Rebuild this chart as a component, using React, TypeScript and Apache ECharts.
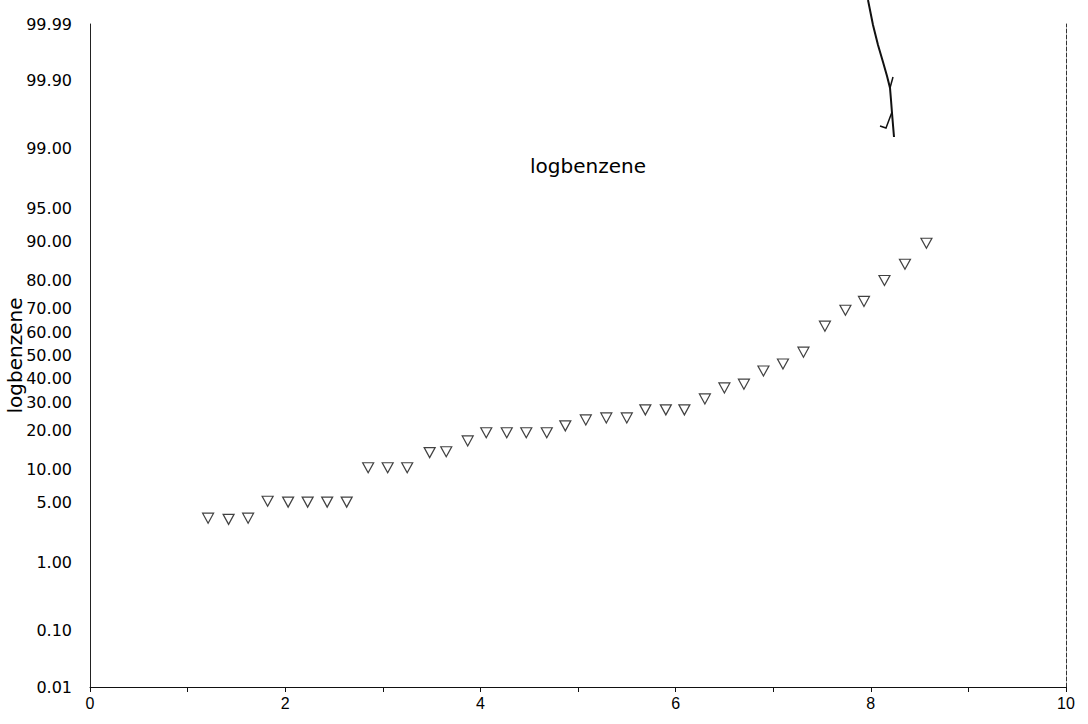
import React, { useEffect, useRef } from "react";
import * as echarts from "echarts";

// ---- data ----
const xValues = [
  1.21, 1.42, 1.62, 1.82, 2.03, 2.23, 2.43, 2.63, 2.85, 3.05, 3.25, 3.48, 3.65,
  3.87, 4.06, 4.27, 4.47, 4.68, 4.87, 5.08, 5.29, 5.5, 5.69, 5.9, 6.09, 6.3,
  6.5, 6.7, 6.9, 7.1, 7.31, 7.53, 7.74, 7.93, 8.14, 8.35, 8.57,
];
const percentValues = [
  3.4, 3.3, 3.4, 5.1, 5.0, 5.0, 5.0, 5.0, 10.4, 10.4, 10.4, 13.8, 14.0, 16.9,
  19.3, 19.3, 19.3, 19.3, 21.5, 23.5, 24.2, 24.2, 27.1, 27.1, 27.1, 31.3, 35.8,
  37.4, 43.1, 46.2, 51.5, 62.9, 69.4, 72.8, 80.0, 84.7, 89.6,
];
const yTickPercents = [
  0.01, 0.1, 1, 5, 10, 20, 30, 40, 50, 60, 70, 80, 90, 95, 99, 99.9, 99.99,
];
const yTickLabels = [
  "0.01", "0.10", "1.00", "5.00", "10.00", "20.00", "30.00", "40.00", "50.00",
  "60.00", "70.00", "80.00", "90.00", "95.00", "99.00", "99.90", "99.99",
];
const xMin = 0;
const xMax = 10;
const titleText = "logbenzene";
const yAxisName = "logbenzene";

// inverse of the standard normal CDF (normal probability scale)
function invNorm(p: number): number {
  const a = [-3.969683028665376e1, 2.209460984245205e2, -2.759285104469687e2, 1.38357751867269e2, -3.066479806614716e1, 2.506628277459239];
  const b = [-5.447609879822406e1, 1.615858368580409e2, -1.556989798598866e2, 6.680131188771972e1, -1.328068155288572e1];
  const c = [-7.784894002430293e-3, -3.223964580411365e-1, -2.400758277161838, -2.549732539343734, 4.374664141464968, 2.938163982698783];
  const d = [7.784695709041462e-3, 3.224671290700398e-1, 2.445134137142996, 3.754408661907416];
  const pl = 0.02425;
  const ph = 1 - pl;
  if (p < pl) {
    const q = Math.sqrt(-2 * Math.log(p));
    return (((((c[0] * q + c[1]) * q + c[2]) * q + c[3]) * q + c[4]) * q + c[5]) /
      ((((d[0] * q + d[1]) * q + d[2]) * q + d[3]) * q + 1);
  }
  if (p <= ph) {
    const q = p - 0.5;
    const r = q * q;
    return ((((((a[0] * r + a[1]) * r + a[2]) * r + a[3]) * r + a[4]) * r + a[5]) * q) /
      (((((b[0] * r + b[1]) * r + b[2]) * r + b[3]) * r + b[4]) * r + 1);
  }
  const q = Math.sqrt(-2 * Math.log(1 - p));
  return -(((((c[0] * q + c[1]) * q + c[2]) * q + c[3]) * q + c[4]) * q + c[5]) /
    ((((d[0] * q + d[1]) * q + d[2]) * q + d[3]) * q + 1);
}

const FONT = "DejaVu Sans, Verdana, sans-serif";

export default function App() {
  const ref = useRef<HTMLDivElement>(null);

  useEffect(() => {
    if (!ref.current) return;
    const chart = echarts.init(ref.current, undefined, { renderer: "svg" });

    const tickZ = yTickPercents.map((p) => invNorm(p / 100));
    const zMin = tickZ[0];
    const zMax = tickZ[tickZ.length - 1];
    const data = xValues.map((x, i) => [x, invNorm(percentValues[i] / 100)]);

    const labelFor = (v: number) => {
      for (let i = 0; i < tickZ.length; i++) {
        if (Math.abs(tickZ[i] - v) < 1e-6) return yTickLabels[i];
      }
      return "";
    };

    chart.setOption({
      animation: false,
      backgroundColor: "#ffffff",
      grid: {
        left: 90,
        right: 22,
        top: 24,
        bottom: 37,
        containLabel: false,
        outerBoundsMode: "none",
      },
      xAxis: {
        type: "value",
        min: xMin,
        max: xMax,
        interval: 1,
        splitLine: { show: false },
        axisLine: { show: true, onZero: false, lineStyle: { color: "#111", width: 1 } },
        axisTick: { show: true, length: 5, lineStyle: { color: "#111" } },
        axisLabel: {
          color: "#000",
          fontSize: 16,
          fontFamily: "Liberation Sans Narrow, Liberation Sans, Arial, sans-serif",
          margin: 8,
          formatter: (v: number) => (Math.round(v) % 2 === 0 ? String(v) : ""),
        },
      },
      yAxis: [
        {
          type: "value",
          min: zMin,
          max: zMax,
          position: "left",
          name: yAxisName,
          nameLocation: "middle",
          nameGap: 65,
          nameMoveOverlap: false,
          nameTextStyle: { color: "#000", fontSize: 20, fontFamily: FONT },
          splitLine: { show: false },
          axisLine: { show: true, onZero: false, lineStyle: { color: "#222", width: 1 } },
          axisTick: { show: false, customValues: tickZ },
          axisLabel: {
            customValues: tickZ,
            color: "#000",
            fontSize: 16,
            fontFamily: FONT,
            margin: 18,
            formatter: (v: number) => labelFor(v),
          },
        },
        {
          type: "value",
          min: zMin,
          max: zMax,
          position: "right",
          splitLine: { show: false },
          axisLine: { show: true, onZero: false, lineStyle: { color: "#333", width: 1, type: "dashed" } },
          axisTick: { show: false },
          axisLabel: { show: false },
        },
      ],
      graphic: [
        {
          type: "text",
          x: 588,
          y: 166,
          style: {
            text: titleText,
            fontSize: 20,
            fontFamily: FONT,
            fill: "#000",
            textAlign: "center",
            textVerticalAlign: "middle",
          },
        },
        {
          type: "polyline",
          shape: {
            points: [
              [868, 0], [873, 25], [878, 45], [883, 62], [887, 76], [890, 88],
              [891, 100], [892, 113], [894, 137],
            ],
          },
          style: { stroke: "#111", lineWidth: 2, fill: "none" },
        },
        {
          type: "polyline",
          shape: { points: [[880, 126], [886, 128], [892, 112]] },
          style: { stroke: "#111", lineWidth: 1.5, fill: "none" },
        },
        {
          type: "polyline",
          shape: { points: [[893, 77], [890, 88]] },
          style: { stroke: "#111", lineWidth: 1.5, fill: "none" },
        },
      ],
      series: [
        {
          type: "scatter",
          yAxisIndex: 0,
          data,
          symbol: "path://M0 0 L12 0 L6 11 Z",
          symbolSize: [11, 10],
          itemStyle: { color: "#ffffff", borderColor: "#111", borderWidth: 1.2 },
          emphasis: { disabled: true },
        },
      ],
    });

    return () => chart.dispose();
  }, []);

  return (
    <div
      ref={ref}
      style={{ position: "fixed", left: 0, top: 0, width: 1088, height: 724, background: "#fff" }}
    />
  );
}
